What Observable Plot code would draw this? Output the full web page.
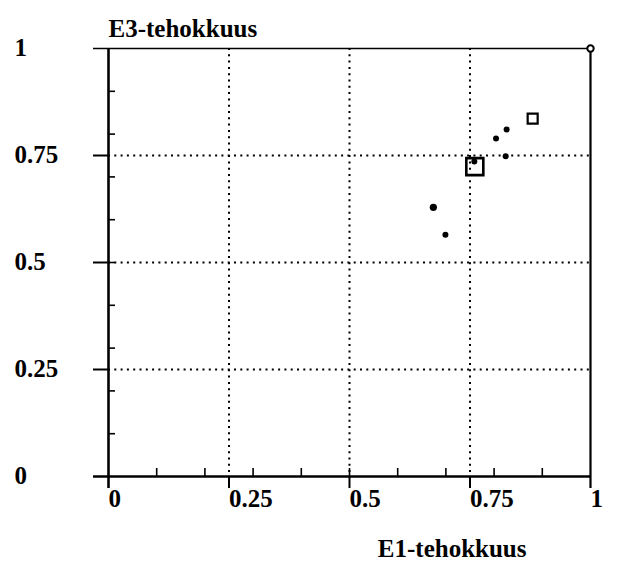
<!DOCTYPE html>
<html>
<head>
<meta charset="utf-8">
<script src="https://cdn.jsdelivr.net/npm/d3@7"></script>
<script src="https://cdn.jsdelivr.net/npm/@observablehq/plot@0.6"></script>
<style>
  html, body { margin: 0; padding: 0; background: #fff; }
</style>
</head>
<body>
<div id="chart"></div>
<script>
// Axis ticks and labels (both axes run 0..1)
const majorTicks = [0, 0.25, 0.5, 0.75, 1];
const majorLabels = ["0", "0.25", "0.5", "0.75", "1"];
const gridTicks = [0.25, 0.5, 0.75];
const minorTicks = [0.1, 0.2, 0.3, 0.4, 0.5, 0.6, 0.7, 0.8, 0.9];

// Small filled points: E1 efficiency vs E3 efficiency
const dotE1 = [0.674, 0.699, 0.759, 0.804, 0.824, 0.826];
const dotE3 = [0.629, 0.565, 0.736, 0.790, 0.748, 0.811];
const dotWeight = ["large", "small", "small", "small", "small", "small"];

// Open squares
const bigSquareE1 = [0.760];
const bigSquareE3 = [0.724];
const smallSquareE1 = [0.880];
const smallSquareE3 = [0.836];

// Fully efficient unit
const fullE1 = [1];
const fullE3 = [1];

const dots = dotE1.map((x, i) => ({x, y: dotE3[i], w: dotWeight[i]}));
const bigSquares = bigSquareE1.map((x, i) => ({x, y: bigSquareE3[i]}));
const smallSquares = smallSquareE1.map((x, i) => ({x, y: smallSquareE3[i]}));
const full = fullE1.map((x, i) => ({x, y: fullE3[i]}));

const W = 617, H = 561;
const mL = 108, mR = 27, mT = 48, mB = 85;
const fW = W - mL - mR, fH = H - mT - mB;
const font = "Liberation Serif, Times New Roman, serif";
const fs = 25;

const chart = Plot.plot({
  width: W,
  height: H,
  marginLeft: mL,
  marginRight: mR,
  marginTop: mT,
  marginBottom: mB,
  style: {fontFamily: font, background: "#fff", color: "#000", overflow: "visible"},
  x: {domain: [0, 1], axis: null},
  y: {domain: [0, 1], axis: null},
  marks: [
    // dotted grid
    Plot.gridX(gridTicks, {stroke: "#000", strokeOpacity: 1, strokeWidth: 2, strokeDasharray: "2,4.3"}),
    Plot.gridY(gridTicks, {stroke: "#000", strokeOpacity: 1, strokeWidth: 2, strokeDasharray: "2,4.3"}),
    // minor ticks pointing into the plot
    Plot.tickX(minorTicks, {x: d => d, insetTop: fH - 8, strokeWidth: 1.6}),
    Plot.tickY(minorTicks, {y: d => d, insetRight: fW - 7, strokeWidth: 1.6}),
    // major ticks pointing outward
    Plot.tickX(gridTicks, {x: d => d, insetTop: fH, insetBottom: -12, strokeWidth: 2}),
    Plot.tickY(gridTicks, {y: d => d, insetRight: fW, insetLeft: -15, strokeWidth: 2}),
    // frame lines
    Plot.tickX([0], {x: d => d, insetBottom: -12, strokeWidth: 2.6}),
    Plot.tickX([1], {x: d => d, insetBottom: -12, strokeWidth: 2.2}),
    Plot.tickY([0], {y: d => d, insetLeft: -15, strokeWidth: 2.6}),
    Plot.tickY([1], {y: d => d, insetLeft: -15, strokeWidth: 1.6}),
    // tick labels
    Plot.text(majorTicks, {
      y: d => d, text: (d, i) => majorLabels[i],
      frameAnchor: "left", textAnchor: "start", dx: -94, dy: -1,
      fontSize: fs, fontWeight: "bold", fill: "#000"
    }),
    Plot.text(majorTicks, {
      x: d => d, text: (d, i) => majorLabels[i],
      frameAnchor: "bottom", textAnchor: "start", lineAnchor: "top", dy: 13,
      fontSize: fs, fontWeight: "bold", fill: "#000"
    }),
    // axis titles
    Plot.text(["E3-tehokkuus"], {
      text: d => d, frameAnchor: "top-left", textAnchor: "start", lineAnchor: "bottom",
      dy: -12, fontSize: fs, fontWeight: "bold", fill: "#000"
    }),
    Plot.text(["E1-tehokkuus"], {
      text: d => d, frameAnchor: "bottom-right", textAnchor: "end", lineAnchor: "bottom",
      dx: -64, dy: 80, fontSize: fs, fontWeight: "bold", fill: "#000"
    }),
    // data
    Plot.dot(bigSquares, {x: "x", y: "y", symbol: "square", r: 17 / Math.sqrt(Math.PI), stroke: "#000", strokeWidth: 2.6, fill: "none"}),
    Plot.dot(smallSquares, {x: "x", y: "y", symbol: "square", r: 10 / Math.sqrt(Math.PI), stroke: "#000", strokeWidth: 2.2, fill: "none"}),
    Plot.dot(dots, {x: "x", y: "y", r: d => d.w === "large" ? 2.8 : 1.9, fill: "#000", stroke: "none"}),
    Plot.dot(full, {x: "x", y: "y", r: 3.2, stroke: "#000", strokeWidth: 2, fill: "#fff"})
  ]
});

document.getElementById("chart").appendChild(chart);
</script>
</body>
</html>
